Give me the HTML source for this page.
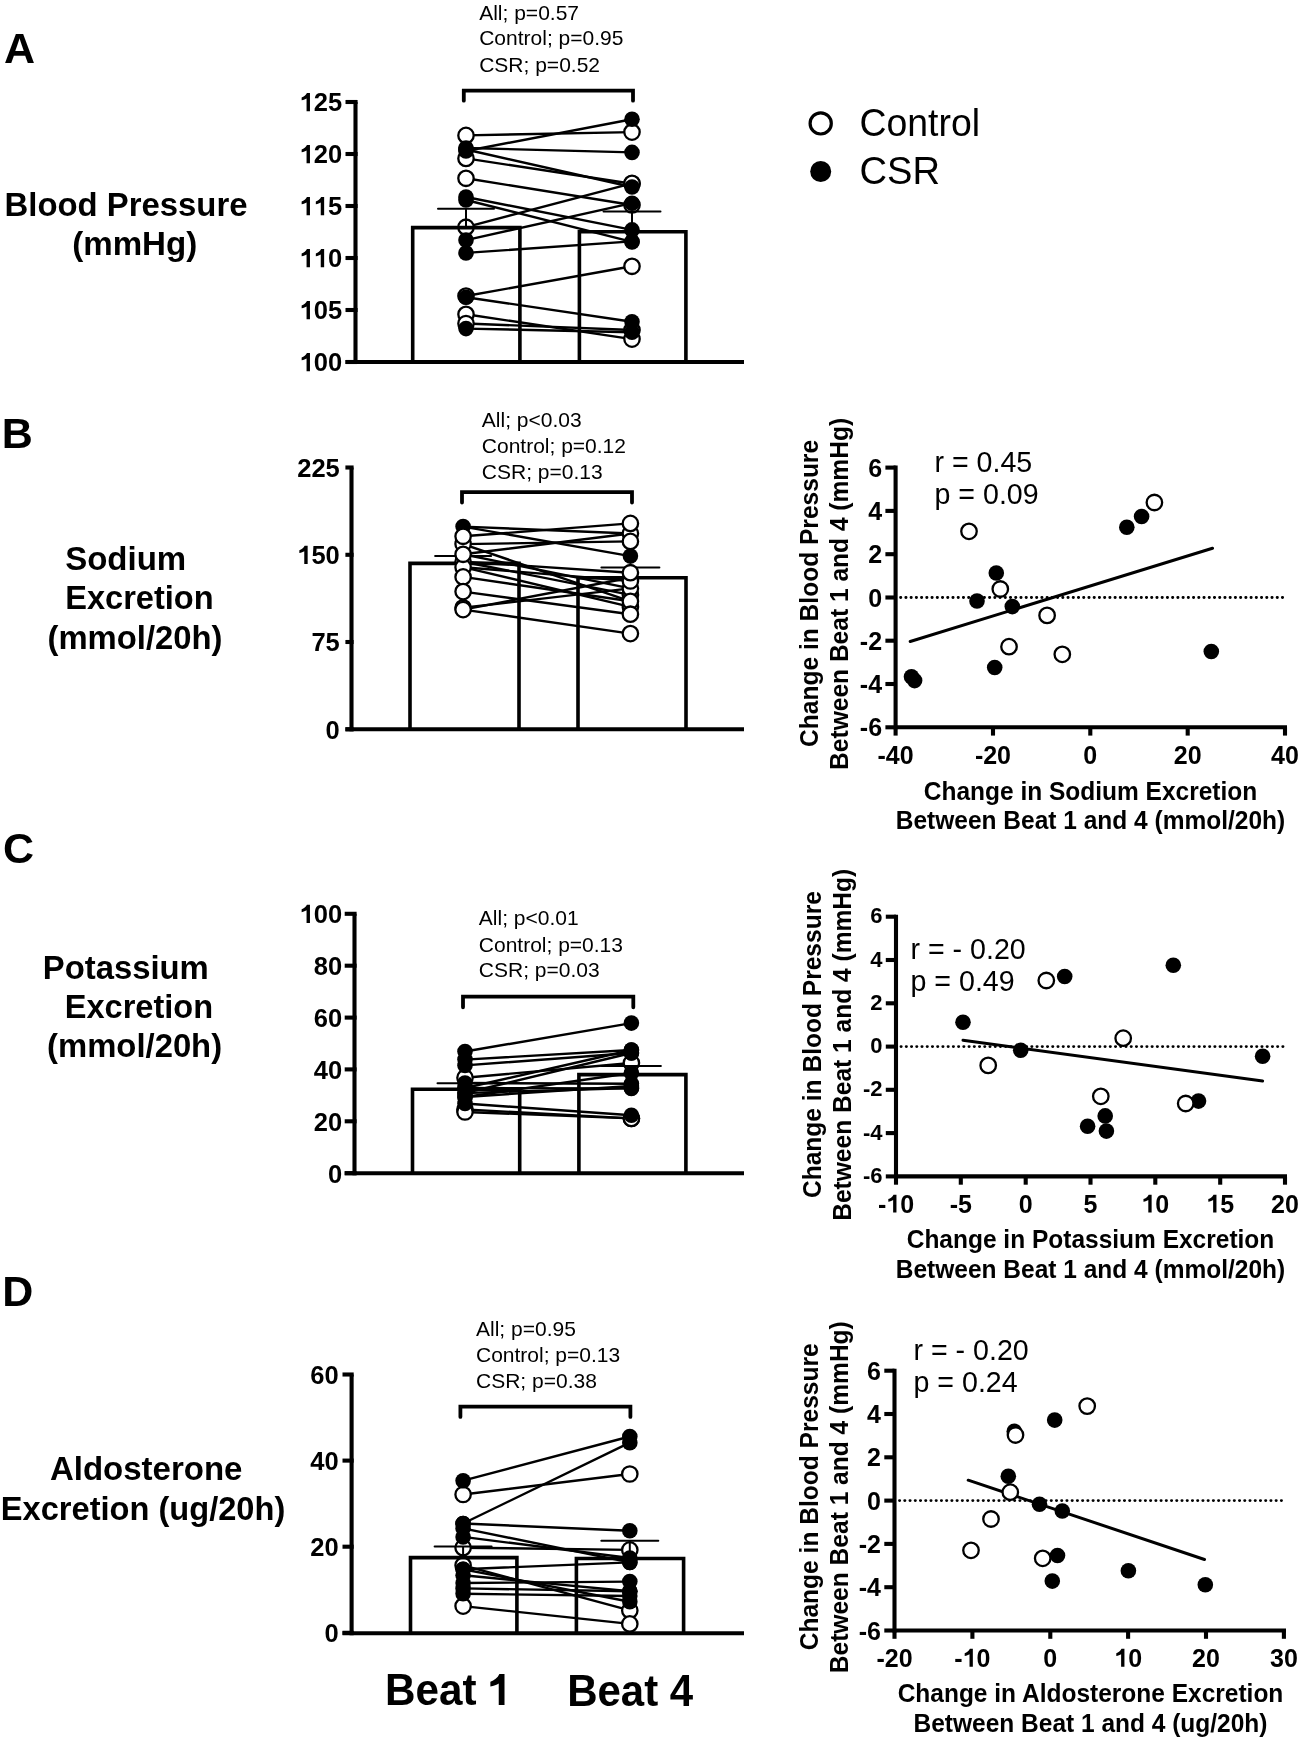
<!DOCTYPE html>
<html><head><meta charset="utf-8"><style>
html,body{margin:0;padding:0;background:#fff;}
svg{display:block;will-change:transform;}
text{font-family:"Liberation Sans",sans-serif;fill:#000;}
</style></head><body>
<svg width="1301" height="1742" viewBox="0 0 1301 1742" stroke="#000" fill="none">
<rect x="0" y="0" width="1301" height="1742" fill="#fff" stroke="none"/>
<g>
<line x1="355.5" y1="102.0" x2="355.5" y2="364.1" stroke-width="4.1" stroke-linecap="butt" />
<line x1="345.5" y1="102.0" x2="357.6" y2="102.0" stroke-width="4.1" stroke-linecap="butt" />
<path d="M0.408,0 L0.408,-0.717 L0.29,-0.717 C0.25,-0.63 0.17,-0.565 0.082,-0.54 L0.082,-0.43 C0.16,-0.44 0.23,-0.47 0.275,-0.5 L0.275,0 Z" transform="translate(299.55,111.30) scale(25.5)" fill="#000" stroke="none"/>
<text stroke="none" x="313.74" y="111.30" font-size="25.5" font-weight="bold">25</text>
<line x1="345.5" y1="154.0" x2="357.6" y2="154.0" stroke-width="4.1" stroke-linecap="butt" />
<path d="M0.408,0 L0.408,-0.717 L0.29,-0.717 C0.25,-0.63 0.17,-0.565 0.082,-0.54 L0.082,-0.43 C0.16,-0.44 0.23,-0.47 0.275,-0.5 L0.275,0 Z" transform="translate(299.55,163.30) scale(25.5)" fill="#000" stroke="none"/>
<text stroke="none" x="313.74" y="163.30" font-size="25.5" font-weight="bold">20</text>
<line x1="345.5" y1="206.0" x2="357.6" y2="206.0" stroke-width="4.1" stroke-linecap="butt" />
<path d="M0.408,0 L0.408,-0.717 L0.29,-0.717 C0.25,-0.63 0.17,-0.565 0.082,-0.54 L0.082,-0.43 C0.16,-0.44 0.23,-0.47 0.275,-0.5 L0.275,0 Z" transform="translate(299.55,215.30) scale(25.5)" fill="#000" stroke="none"/>
<path d="M0.408,0 L0.408,-0.717 L0.29,-0.717 C0.25,-0.63 0.17,-0.565 0.082,-0.54 L0.082,-0.43 C0.16,-0.44 0.23,-0.47 0.275,-0.5 L0.275,0 Z" transform="translate(313.74,215.30) scale(25.5)" fill="#000" stroke="none"/>
<text stroke="none" x="327.92" y="215.30" font-size="25.5" font-weight="bold">5</text>
<line x1="345.5" y1="258.0" x2="357.6" y2="258.0" stroke-width="4.1" stroke-linecap="butt" />
<path d="M0.408,0 L0.408,-0.717 L0.29,-0.717 C0.25,-0.63 0.17,-0.565 0.082,-0.54 L0.082,-0.43 C0.16,-0.44 0.23,-0.47 0.275,-0.5 L0.275,0 Z" transform="translate(299.55,267.30) scale(25.5)" fill="#000" stroke="none"/>
<path d="M0.408,0 L0.408,-0.717 L0.29,-0.717 C0.25,-0.63 0.17,-0.565 0.082,-0.54 L0.082,-0.43 C0.16,-0.44 0.23,-0.47 0.275,-0.5 L0.275,0 Z" transform="translate(313.74,267.30) scale(25.5)" fill="#000" stroke="none"/>
<text stroke="none" x="327.92" y="267.30" font-size="25.5" font-weight="bold">0</text>
<line x1="345.5" y1="310.0" x2="357.6" y2="310.0" stroke-width="4.1" stroke-linecap="butt" />
<path d="M0.408,0 L0.408,-0.717 L0.29,-0.717 C0.25,-0.63 0.17,-0.565 0.082,-0.54 L0.082,-0.43 C0.16,-0.44 0.23,-0.47 0.275,-0.5 L0.275,0 Z" transform="translate(299.55,319.30) scale(25.5)" fill="#000" stroke="none"/>
<text stroke="none" x="313.74" y="319.30" font-size="25.5" font-weight="bold">05</text>
<line x1="345.5" y1="362.0" x2="357.6" y2="362.0" stroke-width="4.1" stroke-linecap="butt" />
<path d="M0.408,0 L0.408,-0.717 L0.29,-0.717 C0.25,-0.63 0.17,-0.565 0.082,-0.54 L0.082,-0.43 C0.16,-0.44 0.23,-0.47 0.275,-0.5 L0.275,0 Z" transform="translate(299.55,371.30) scale(25.5)" fill="#000" stroke="none"/>
<text stroke="none" x="313.74" y="371.30" font-size="25.5" font-weight="bold">00</text>
<line x1="345.5" y1="362.0" x2="744.0" y2="362.0" stroke-width="4.1" stroke-linecap="butt" />
<line x1="466.0" y1="135.4" x2="632.0" y2="132.1" stroke-width="2.4" stroke-linecap="round" />
<line x1="466.0" y1="151.0" x2="632.0" y2="119.2" stroke-width="2.4" stroke-linecap="round" />
<line x1="466.0" y1="148.0" x2="632.0" y2="152.4" stroke-width="2.4" stroke-linecap="round" />
<line x1="466.0" y1="149.5" x2="632.0" y2="187.0" stroke-width="2.4" stroke-linecap="round" />
<line x1="466.0" y1="158.4" x2="632.0" y2="183.8" stroke-width="2.4" stroke-linecap="round" />
<line x1="466.0" y1="178.3" x2="632.0" y2="205.0" stroke-width="2.4" stroke-linecap="round" />
<line x1="466.0" y1="197.0" x2="632.0" y2="229.9" stroke-width="2.4" stroke-linecap="round" />
<line x1="466.0" y1="200.0" x2="632.0" y2="241.9" stroke-width="2.4" stroke-linecap="round" />
<line x1="466.0" y1="227.2" x2="632.0" y2="183.3" stroke-width="2.4" stroke-linecap="round" />
<line x1="466.0" y1="240.1" x2="632.0" y2="203.2" stroke-width="2.4" stroke-linecap="round" />
<line x1="466.0" y1="252.9" x2="632.0" y2="241.4" stroke-width="2.4" stroke-linecap="round" />
<line x1="466.0" y1="296.0" x2="632.0" y2="266.3" stroke-width="2.4" stroke-linecap="round" />
<line x1="466.0" y1="297.2" x2="632.0" y2="321.7" stroke-width="2.4" stroke-linecap="round" />
<line x1="466.0" y1="314.3" x2="632.0" y2="339.1" stroke-width="2.4" stroke-linecap="round" />
<line x1="466.0" y1="323.5" x2="632.0" y2="330.0" stroke-width="2.4" stroke-linecap="round" />
<line x1="466.0" y1="328.6" x2="632.0" y2="332.2" stroke-width="2.4" stroke-linecap="round" />
<circle cx="466.0" cy="135.4" r="7.70" fill="#fff" stroke="#000" stroke-width="2.3"/>
<circle cx="632.0" cy="132.1" r="7.70" fill="#fff" stroke="#000" stroke-width="2.3"/>
<circle cx="466.0" cy="158.4" r="7.70" fill="#fff" stroke="#000" stroke-width="2.3"/>
<circle cx="632.0" cy="183.8" r="7.70" fill="#fff" stroke="#000" stroke-width="2.3"/>
<circle cx="466.0" cy="178.3" r="7.70" fill="#fff" stroke="#000" stroke-width="2.3"/>
<circle cx="632.0" cy="205.0" r="7.70" fill="#fff" stroke="#000" stroke-width="2.3"/>
<circle cx="466.0" cy="227.2" r="7.70" fill="#fff" stroke="#000" stroke-width="2.3"/>
<circle cx="632.0" cy="183.3" r="7.70" fill="#fff" stroke="#000" stroke-width="2.3"/>
<circle cx="466.0" cy="296.0" r="7.70" fill="#fff" stroke="#000" stroke-width="2.3"/>
<circle cx="632.0" cy="266.3" r="7.70" fill="#fff" stroke="#000" stroke-width="2.3"/>
<circle cx="466.0" cy="314.3" r="7.70" fill="#fff" stroke="#000" stroke-width="2.3"/>
<circle cx="632.0" cy="339.1" r="7.70" fill="#fff" stroke="#000" stroke-width="2.3"/>
<circle cx="466.0" cy="323.5" r="7.70" fill="#fff" stroke="#000" stroke-width="2.3"/>
<circle cx="632.0" cy="330.0" r="7.70" fill="#fff" stroke="#000" stroke-width="2.3"/>
<circle cx="466.0" cy="151.0" r="7.80" fill="#000" stroke="none"/>
<circle cx="632.0" cy="119.2" r="7.80" fill="#000" stroke="none"/>
<circle cx="466.0" cy="148.0" r="7.80" fill="#000" stroke="none"/>
<circle cx="632.0" cy="152.4" r="7.80" fill="#000" stroke="none"/>
<circle cx="466.0" cy="149.5" r="7.80" fill="#000" stroke="none"/>
<circle cx="632.0" cy="187.0" r="7.80" fill="#000" stroke="none"/>
<circle cx="466.0" cy="197.0" r="7.80" fill="#000" stroke="none"/>
<circle cx="632.0" cy="229.9" r="7.80" fill="#000" stroke="none"/>
<circle cx="466.0" cy="200.0" r="7.80" fill="#000" stroke="none"/>
<circle cx="632.0" cy="241.9" r="7.80" fill="#000" stroke="none"/>
<circle cx="466.0" cy="240.1" r="7.80" fill="#000" stroke="none"/>
<circle cx="632.0" cy="203.2" r="7.80" fill="#000" stroke="none"/>
<circle cx="466.0" cy="252.9" r="7.80" fill="#000" stroke="none"/>
<circle cx="632.0" cy="241.4" r="7.80" fill="#000" stroke="none"/>
<circle cx="466.0" cy="297.2" r="7.80" fill="#000" stroke="none"/>
<circle cx="632.0" cy="321.7" r="7.80" fill="#000" stroke="none"/>
<circle cx="466.0" cy="328.6" r="7.80" fill="#000" stroke="none"/>
<circle cx="632.0" cy="332.2" r="7.80" fill="#000" stroke="none"/>
<path d="M412.7,362.0 V227.6 H519.9 V362.0" fill="none" stroke-width="3.6" stroke-linejoin="miter"/>
<path d="M579.4,362.0 V231.7 H685.9 V362.0" fill="none" stroke-width="3.6" stroke-linejoin="miter"/>
<line x1="466.0" y1="227.6" x2="466.0" y2="208.7" stroke-width="2.0" stroke-linecap="butt" />
<line x1="438.0" y1="208.7" x2="494.0" y2="208.7" stroke-width="2.0" stroke-linecap="round" />
<line x1="632.0" y1="231.7" x2="632.0" y2="211.4" stroke-width="2.0" stroke-linecap="butt" />
<line x1="603.5" y1="211.4" x2="660.5" y2="211.4" stroke-width="2.0" stroke-linecap="round" />
<path d="M463.8,100.7 V90.7 H633.0 V100.7" fill="none" stroke-width="3.8" stroke-linecap="round" stroke-linejoin="miter"/>
<text stroke="none" x="479.2" y="20.0" font-size="21" font-weight="normal" text-anchor="start" >All; p=0.57</text>
<text stroke="none" x="479.2" y="45.4" font-size="21" font-weight="normal" text-anchor="start" >Control; p=0.95</text>
<text stroke="none" x="479.2" y="71.5" font-size="21" font-weight="normal" text-anchor="start" >CSR; p=0.52</text>
<line x1="351.5" y1="467.5" x2="351.5" y2="731.3" stroke-width="4.1" stroke-linecap="butt" />
<line x1="345.4" y1="467.5" x2="353.6" y2="467.5" stroke-width="4.1" stroke-linecap="butt" />
<text stroke="none" x="297.25" y="476.80" font-size="25.5" font-weight="bold">225</text>
<line x1="345.4" y1="554.8" x2="353.6" y2="554.8" stroke-width="4.1" stroke-linecap="butt" />
<path d="M0.408,0 L0.408,-0.717 L0.29,-0.717 C0.25,-0.63 0.17,-0.565 0.082,-0.54 L0.082,-0.43 C0.16,-0.44 0.23,-0.47 0.275,-0.5 L0.275,0 Z" transform="translate(297.25,564.07) scale(25.5)" fill="#000" stroke="none"/>
<text stroke="none" x="311.44" y="564.07" font-size="25.5" font-weight="bold">50</text>
<line x1="345.4" y1="642.0" x2="353.6" y2="642.0" stroke-width="4.1" stroke-linecap="butt" />
<text stroke="none" x="311.44" y="651.33" font-size="25.5" font-weight="bold">75</text>
<line x1="345.4" y1="729.3" x2="353.6" y2="729.3" stroke-width="4.1" stroke-linecap="butt" />
<text stroke="none" x="325.62" y="738.60" font-size="25.5" font-weight="bold">0</text>
<line x1="345.4" y1="729.3" x2="744.0" y2="729.3" stroke-width="4.1" stroke-linecap="butt" />
<path d="M410.0,729.3 V563.4 H519.0 V729.3" fill="none" stroke-width="3.6" stroke-linejoin="miter"/>
<path d="M578.0,729.3 V577.8 H686.0 V729.3" fill="none" stroke-width="3.6" stroke-linejoin="miter"/>
<line x1="463.1" y1="563.4" x2="463.1" y2="556.1" stroke-width="2.0" stroke-linecap="butt" />
<line x1="435.1" y1="556.1" x2="491.1" y2="556.1" stroke-width="2.0" stroke-linecap="round" />
<line x1="630.4" y1="577.8" x2="630.4" y2="567.6" stroke-width="2.0" stroke-linecap="butt" />
<line x1="601.4" y1="567.6" x2="659.4" y2="567.6" stroke-width="2.0" stroke-linecap="round" />
<line x1="463.1" y1="526.6" x2="630.4" y2="533.5" stroke-width="2.4" stroke-linecap="round" />
<line x1="463.1" y1="536.3" x2="630.4" y2="523.4" stroke-width="2.4" stroke-linecap="round" />
<line x1="463.1" y1="526.6" x2="630.4" y2="556.1" stroke-width="2.4" stroke-linecap="round" />
<line x1="463.1" y1="544.1" x2="630.4" y2="541.4" stroke-width="2.4" stroke-linecap="round" />
<line x1="463.1" y1="554.3" x2="630.4" y2="533.5" stroke-width="2.4" stroke-linecap="round" />
<line x1="463.1" y1="544.1" x2="630.4" y2="601.3" stroke-width="2.4" stroke-linecap="round" />
<line x1="463.1" y1="561.7" x2="630.4" y2="572.7" stroke-width="2.4" stroke-linecap="round" />
<line x1="463.1" y1="567.2" x2="630.4" y2="581.0" stroke-width="2.4" stroke-linecap="round" />
<line x1="463.1" y1="554.3" x2="630.4" y2="588.4" stroke-width="2.4" stroke-linecap="round" />
<line x1="463.1" y1="561.7" x2="630.4" y2="594.9" stroke-width="2.4" stroke-linecap="round" />
<line x1="463.1" y1="567.2" x2="630.4" y2="606.9" stroke-width="2.4" stroke-linecap="round" />
<line x1="463.1" y1="576.9" x2="630.4" y2="601.3" stroke-width="2.4" stroke-linecap="round" />
<line x1="463.1" y1="591.6" x2="630.4" y2="614.2" stroke-width="2.4" stroke-linecap="round" />
<line x1="463.1" y1="609.6" x2="630.4" y2="577.8" stroke-width="2.4" stroke-linecap="round" />
<line x1="463.1" y1="609.6" x2="630.4" y2="633.6" stroke-width="2.4" stroke-linecap="round" />
<line x1="463.1" y1="607.8" x2="630.4" y2="588.4" stroke-width="2.4" stroke-linecap="round" />
<circle cx="463.1" cy="526.6" r="7.80" fill="#000" stroke="none"/>
<circle cx="463.1" cy="544.1" r="7.70" fill="#fff" stroke="#000" stroke-width="2.3"/>
<circle cx="463.1" cy="561.7" r="7.70" fill="#fff" stroke="#000" stroke-width="2.3"/>
<circle cx="463.1" cy="567.2" r="7.70" fill="#fff" stroke="#000" stroke-width="2.3"/>
<circle cx="463.1" cy="536.3" r="7.70" fill="#fff" stroke="#000" stroke-width="2.3"/>
<circle cx="463.1" cy="554.3" r="7.70" fill="#fff" stroke="#000" stroke-width="2.3"/>
<circle cx="463.1" cy="576.9" r="7.70" fill="#fff" stroke="#000" stroke-width="2.3"/>
<circle cx="463.1" cy="591.6" r="7.70" fill="#fff" stroke="#000" stroke-width="2.3"/>
<circle cx="463.1" cy="607.8" r="7.70" fill="#fff" stroke="#000" stroke-width="2.3"/>
<circle cx="463.1" cy="609.6" r="7.70" fill="#fff" stroke="#000" stroke-width="2.3"/>
<circle cx="630.4" cy="606.9" r="7.70" fill="#fff" stroke="#000" stroke-width="2.3"/>
<circle cx="630.4" cy="594.9" r="7.70" fill="#fff" stroke="#000" stroke-width="2.3"/>
<circle cx="630.4" cy="588.4" r="7.70" fill="#fff" stroke="#000" stroke-width="2.3"/>
<circle cx="630.4" cy="581.0" r="7.70" fill="#fff" stroke="#000" stroke-width="2.3"/>
<circle cx="630.4" cy="533.5" r="7.70" fill="#fff" stroke="#000" stroke-width="2.3"/>
<circle cx="630.4" cy="523.4" r="7.70" fill="#fff" stroke="#000" stroke-width="2.3"/>
<circle cx="630.4" cy="541.4" r="7.70" fill="#fff" stroke="#000" stroke-width="2.3"/>
<circle cx="630.4" cy="556.1" r="7.80" fill="#000" stroke="none"/>
<circle cx="630.4" cy="572.7" r="7.70" fill="#fff" stroke="#000" stroke-width="2.3"/>
<circle cx="630.4" cy="601.3" r="7.70" fill="#fff" stroke="#000" stroke-width="2.3"/>
<circle cx="630.4" cy="614.2" r="7.70" fill="#fff" stroke="#000" stroke-width="2.3"/>
<circle cx="630.4" cy="633.6" r="7.70" fill="#fff" stroke="#000" stroke-width="2.3"/>
<path d="M462.0,502.6 V492.2 H632.0 V502.6" fill="none" stroke-width="3.8" stroke-linecap="round" stroke-linejoin="miter"/>
<text stroke="none" x="481.8" y="427.2" font-size="21" font-weight="normal" text-anchor="start" >All; p&lt;0.03</text>
<text stroke="none" x="481.8" y="453.2" font-size="21" font-weight="normal" text-anchor="start" >Control; p=0.12</text>
<text stroke="none" x="481.8" y="478.8" font-size="21" font-weight="normal" text-anchor="start" >CSR; p=0.13</text>
<line x1="354.5" y1="913.8" x2="354.5" y2="1175.2" stroke-width="4.1" stroke-linecap="butt" />
<line x1="344.7" y1="913.8" x2="356.6" y2="913.8" stroke-width="4.1" stroke-linecap="butt" />
<path d="M0.408,0 L0.408,-0.717 L0.29,-0.717 C0.25,-0.63 0.17,-0.565 0.082,-0.54 L0.082,-0.43 C0.16,-0.44 0.23,-0.47 0.275,-0.5 L0.275,0 Z" transform="translate(299.55,923.10) scale(25.5)" fill="#000" stroke="none"/>
<text stroke="none" x="313.74" y="923.10" font-size="25.5" font-weight="bold">00</text>
<line x1="344.7" y1="965.7" x2="356.6" y2="965.7" stroke-width="4.1" stroke-linecap="butt" />
<text stroke="none" x="313.74" y="974.98" font-size="25.5" font-weight="bold">80</text>
<line x1="344.7" y1="1017.6" x2="356.6" y2="1017.6" stroke-width="4.1" stroke-linecap="butt" />
<text stroke="none" x="313.74" y="1026.86" font-size="25.5" font-weight="bold">60</text>
<line x1="344.7" y1="1069.4" x2="356.6" y2="1069.4" stroke-width="4.1" stroke-linecap="butt" />
<text stroke="none" x="313.74" y="1078.74" font-size="25.5" font-weight="bold">40</text>
<line x1="344.7" y1="1121.3" x2="356.6" y2="1121.3" stroke-width="4.1" stroke-linecap="butt" />
<text stroke="none" x="313.74" y="1130.62" font-size="25.5" font-weight="bold">20</text>
<line x1="344.7" y1="1173.2" x2="356.6" y2="1173.2" stroke-width="4.1" stroke-linecap="butt" />
<text stroke="none" x="327.92" y="1182.50" font-size="25.5" font-weight="bold">0</text>
<line x1="344.7" y1="1173.2" x2="744.0" y2="1173.2" stroke-width="4.1" stroke-linecap="butt" />
<line x1="465.0" y1="1051.5" x2="631.4" y2="1023.1" stroke-width="2.4" stroke-linecap="round" />
<line x1="465.0" y1="1059.6" x2="631.4" y2="1050.0" stroke-width="2.4" stroke-linecap="round" />
<line x1="465.0" y1="1065.4" x2="631.4" y2="1053.0" stroke-width="2.4" stroke-linecap="round" />
<line x1="465.0" y1="1077.7" x2="631.4" y2="1063.0" stroke-width="2.4" stroke-linecap="round" />
<line x1="465.0" y1="1088.0" x2="631.4" y2="1050.0" stroke-width="2.4" stroke-linecap="round" />
<line x1="465.0" y1="1093.0" x2="631.4" y2="1053.0" stroke-width="2.4" stroke-linecap="round" />
<line x1="465.0" y1="1083.0" x2="631.4" y2="1083.8" stroke-width="2.4" stroke-linecap="round" />
<line x1="465.0" y1="1088.0" x2="631.4" y2="1088.4" stroke-width="2.4" stroke-linecap="round" />
<line x1="465.0" y1="1097.0" x2="631.4" y2="1073.0" stroke-width="2.4" stroke-linecap="round" />
<line x1="465.0" y1="1097.0" x2="631.4" y2="1086.0" stroke-width="2.4" stroke-linecap="round" />
<line x1="465.0" y1="1093.0" x2="631.4" y2="1088.0" stroke-width="2.4" stroke-linecap="round" />
<line x1="465.0" y1="1103.5" x2="631.4" y2="1115.3" stroke-width="2.4" stroke-linecap="round" />
<line x1="465.0" y1="1109.5" x2="631.4" y2="1118.4" stroke-width="2.4" stroke-linecap="round" />
<line x1="465.0" y1="1112.0" x2="631.4" y2="1118.4" stroke-width="2.4" stroke-linecap="round" />
<circle cx="465.0" cy="1077.7" r="7.70" fill="#fff" stroke="#000" stroke-width="2.3"/>
<circle cx="631.4" cy="1063.0" r="7.70" fill="#fff" stroke="#000" stroke-width="2.3"/>
<circle cx="465.0" cy="1109.5" r="7.70" fill="#fff" stroke="#000" stroke-width="2.3"/>
<circle cx="631.4" cy="1118.4" r="7.70" fill="#fff" stroke="#000" stroke-width="2.3"/>
<circle cx="465.0" cy="1112.0" r="7.70" fill="#fff" stroke="#000" stroke-width="2.3"/>
<circle cx="631.4" cy="1118.4" r="7.70" fill="#fff" stroke="#000" stroke-width="2.3"/>
<circle cx="465.0" cy="1051.5" r="7.80" fill="#000" stroke="none"/>
<circle cx="631.4" cy="1023.1" r="7.80" fill="#000" stroke="none"/>
<circle cx="465.0" cy="1059.6" r="7.80" fill="#000" stroke="none"/>
<circle cx="631.4" cy="1050.0" r="7.80" fill="#000" stroke="none"/>
<circle cx="465.0" cy="1065.4" r="7.80" fill="#000" stroke="none"/>
<circle cx="631.4" cy="1053.0" r="7.80" fill="#000" stroke="none"/>
<circle cx="465.0" cy="1088.0" r="7.80" fill="#000" stroke="none"/>
<circle cx="631.4" cy="1050.0" r="7.80" fill="#000" stroke="none"/>
<circle cx="465.0" cy="1093.0" r="7.80" fill="#000" stroke="none"/>
<circle cx="631.4" cy="1053.0" r="7.80" fill="#000" stroke="none"/>
<circle cx="465.0" cy="1083.0" r="7.80" fill="#000" stroke="none"/>
<circle cx="631.4" cy="1083.8" r="7.80" fill="#000" stroke="none"/>
<circle cx="465.0" cy="1088.0" r="7.80" fill="#000" stroke="none"/>
<circle cx="631.4" cy="1088.4" r="7.80" fill="#000" stroke="none"/>
<circle cx="465.0" cy="1097.0" r="7.80" fill="#000" stroke="none"/>
<circle cx="631.4" cy="1073.0" r="7.80" fill="#000" stroke="none"/>
<circle cx="465.0" cy="1097.0" r="7.80" fill="#000" stroke="none"/>
<circle cx="631.4" cy="1086.0" r="7.80" fill="#000" stroke="none"/>
<circle cx="465.0" cy="1093.0" r="7.80" fill="#000" stroke="none"/>
<circle cx="631.4" cy="1088.0" r="7.80" fill="#000" stroke="none"/>
<circle cx="465.0" cy="1103.5" r="7.80" fill="#000" stroke="none"/>
<circle cx="631.4" cy="1115.3" r="7.80" fill="#000" stroke="none"/>
<path d="M412.5,1173.2 V1089.3 H519.7 V1173.2" fill="none" stroke-width="3.6" stroke-linejoin="miter"/>
<path d="M578.9,1173.2 V1074.6 H685.9 V1173.2" fill="none" stroke-width="3.6" stroke-linejoin="miter"/>
<line x1="465.0" y1="1089.3" x2="465.0" y2="1083.2" stroke-width="2.0" stroke-linecap="butt" />
<line x1="437.5" y1="1083.2" x2="492.5" y2="1083.2" stroke-width="2.0" stroke-linecap="round" />
<line x1="631.4" y1="1074.6" x2="631.4" y2="1065.9" stroke-width="2.0" stroke-linecap="butt" />
<line x1="601.9" y1="1065.9" x2="660.9" y2="1065.9" stroke-width="2.0" stroke-linecap="round" />
<path d="M463.0,1007.3 V996.7 H633.3 V1007.3" fill="none" stroke-width="3.8" stroke-linecap="round" stroke-linejoin="miter"/>
<text stroke="none" x="478.8" y="925.4" font-size="21" font-weight="normal" text-anchor="start" >All; p&lt;0.01</text>
<text stroke="none" x="478.8" y="951.8" font-size="21" font-weight="normal" text-anchor="start" >Control; p=0.13</text>
<text stroke="none" x="478.8" y="976.8" font-size="21" font-weight="normal" text-anchor="start" >CSR; p=0.03</text>
<line x1="351.6" y1="1374.5" x2="351.6" y2="1635.2" stroke-width="4.1" stroke-linecap="butt" />
<line x1="342.5" y1="1374.5" x2="353.7" y2="1374.5" stroke-width="4.1" stroke-linecap="butt" />
<text stroke="none" x="310.24" y="1383.80" font-size="25.5" font-weight="bold">60</text>
<line x1="342.5" y1="1460.6" x2="353.7" y2="1460.6" stroke-width="4.1" stroke-linecap="butt" />
<text stroke="none" x="310.24" y="1469.90" font-size="25.5" font-weight="bold">40</text>
<line x1="342.5" y1="1546.7" x2="353.7" y2="1546.7" stroke-width="4.1" stroke-linecap="butt" />
<text stroke="none" x="310.24" y="1556.00" font-size="25.5" font-weight="bold">20</text>
<line x1="342.5" y1="1632.8" x2="353.7" y2="1632.8" stroke-width="4.1" stroke-linecap="butt" />
<text stroke="none" x="324.42" y="1642.10" font-size="25.5" font-weight="bold">0</text>
<line x1="342.5" y1="1633.2" x2="744.0" y2="1633.2" stroke-width="4.1" stroke-linecap="butt" />
<line x1="463.1" y1="1480.7" x2="629.8" y2="1436.5" stroke-width="2.4" stroke-linecap="round" />
<line x1="463.1" y1="1494.5" x2="629.8" y2="1474.0" stroke-width="2.4" stroke-linecap="round" />
<line x1="463.1" y1="1523.5" x2="629.8" y2="1442.7" stroke-width="2.4" stroke-linecap="round" />
<line x1="463.1" y1="1523.5" x2="629.8" y2="1530.7" stroke-width="2.4" stroke-linecap="round" />
<line x1="463.1" y1="1536.9" x2="629.8" y2="1558.0" stroke-width="2.4" stroke-linecap="round" />
<line x1="463.1" y1="1547.7" x2="629.8" y2="1549.9" stroke-width="2.4" stroke-linecap="round" />
<line x1="463.1" y1="1569.2" x2="629.8" y2="1562.4" stroke-width="2.4" stroke-linecap="round" />
<line x1="463.1" y1="1569.2" x2="629.8" y2="1601.8" stroke-width="2.4" stroke-linecap="round" />
<line x1="463.1" y1="1575.3" x2="629.8" y2="1591.2" stroke-width="2.4" stroke-linecap="round" />
<line x1="463.1" y1="1583.0" x2="629.8" y2="1581.6" stroke-width="2.4" stroke-linecap="round" />
<line x1="463.1" y1="1588.4" x2="629.8" y2="1591.2" stroke-width="2.4" stroke-linecap="round" />
<line x1="463.1" y1="1593.8" x2="629.8" y2="1596.0" stroke-width="2.4" stroke-linecap="round" />
<line x1="463.1" y1="1565.3" x2="629.8" y2="1610.4" stroke-width="2.4" stroke-linecap="round" />
<line x1="463.1" y1="1606.1" x2="629.8" y2="1623.9" stroke-width="2.4" stroke-linecap="round" />
<line x1="463.1" y1="1528.4" x2="629.8" y2="1562.4" stroke-width="2.4" stroke-linecap="round" />
<circle cx="463.1" cy="1494.5" r="7.70" fill="#fff" stroke="#000" stroke-width="2.3"/>
<circle cx="629.8" cy="1474.0" r="7.70" fill="#fff" stroke="#000" stroke-width="2.3"/>
<circle cx="463.1" cy="1547.7" r="7.70" fill="#fff" stroke="#000" stroke-width="2.3"/>
<circle cx="629.8" cy="1549.9" r="7.70" fill="#fff" stroke="#000" stroke-width="2.3"/>
<circle cx="463.1" cy="1565.3" r="7.70" fill="#fff" stroke="#000" stroke-width="2.3"/>
<circle cx="629.8" cy="1610.4" r="7.70" fill="#fff" stroke="#000" stroke-width="2.3"/>
<circle cx="463.1" cy="1606.1" r="7.70" fill="#fff" stroke="#000" stroke-width="2.3"/>
<circle cx="629.8" cy="1623.9" r="7.70" fill="#fff" stroke="#000" stroke-width="2.3"/>
<circle cx="463.1" cy="1480.7" r="7.80" fill="#000" stroke="none"/>
<circle cx="629.8" cy="1436.5" r="7.80" fill="#000" stroke="none"/>
<circle cx="463.1" cy="1523.5" r="7.80" fill="#000" stroke="none"/>
<circle cx="629.8" cy="1442.7" r="7.80" fill="#000" stroke="none"/>
<circle cx="463.1" cy="1523.5" r="7.80" fill="#000" stroke="none"/>
<circle cx="629.8" cy="1530.7" r="7.80" fill="#000" stroke="none"/>
<circle cx="463.1" cy="1536.9" r="7.80" fill="#000" stroke="none"/>
<circle cx="629.8" cy="1558.0" r="7.80" fill="#000" stroke="none"/>
<circle cx="463.1" cy="1569.2" r="7.80" fill="#000" stroke="none"/>
<circle cx="629.8" cy="1562.4" r="7.80" fill="#000" stroke="none"/>
<circle cx="463.1" cy="1569.2" r="7.80" fill="#000" stroke="none"/>
<circle cx="629.8" cy="1601.8" r="7.80" fill="#000" stroke="none"/>
<circle cx="463.1" cy="1575.3" r="7.80" fill="#000" stroke="none"/>
<circle cx="629.8" cy="1591.2" r="7.80" fill="#000" stroke="none"/>
<circle cx="463.1" cy="1583.0" r="7.80" fill="#000" stroke="none"/>
<circle cx="629.8" cy="1581.6" r="7.80" fill="#000" stroke="none"/>
<circle cx="463.1" cy="1588.4" r="7.80" fill="#000" stroke="none"/>
<circle cx="629.8" cy="1591.2" r="7.80" fill="#000" stroke="none"/>
<circle cx="463.1" cy="1593.8" r="7.80" fill="#000" stroke="none"/>
<circle cx="629.8" cy="1596.0" r="7.80" fill="#000" stroke="none"/>
<circle cx="463.1" cy="1528.4" r="7.80" fill="#000" stroke="none"/>
<circle cx="629.8" cy="1562.4" r="7.80" fill="#000" stroke="none"/>
<path d="M410.5,1633.2 V1557.6 H516.9 V1633.2" fill="none" stroke-width="3.6" stroke-linejoin="miter"/>
<path d="M576.4,1633.2 V1558.5 H683.6 V1633.2" fill="none" stroke-width="3.6" stroke-linejoin="miter"/>
<line x1="463.1" y1="1557.6" x2="463.1" y2="1546.4" stroke-width="2.0" stroke-linecap="butt" />
<line x1="434.6" y1="1546.4" x2="491.6" y2="1546.4" stroke-width="2.0" stroke-linecap="round" />
<line x1="629.8" y1="1558.5" x2="629.8" y2="1540.7" stroke-width="2.0" stroke-linecap="butt" />
<line x1="601.3" y1="1540.7" x2="658.3" y2="1540.7" stroke-width="2.0" stroke-linecap="round" />
<path d="M460.4,1416.9 V1406.7 H630.4 V1416.9" fill="none" stroke-width="3.8" stroke-linecap="round" stroke-linejoin="miter"/>
<text stroke="none" x="476.0" y="1336.0" font-size="21" font-weight="normal" text-anchor="start" >All; p=0.95</text>
<text stroke="none" x="476.0" y="1362.2" font-size="21" font-weight="normal" text-anchor="start" >Control; p=0.13</text>
<text stroke="none" x="476.0" y="1387.8" font-size="21" font-weight="normal" text-anchor="start" >CSR; p=0.38</text>
<line x1="895.6" y1="465.6" x2="895.6" y2="729.3" stroke-width="4.1" stroke-linecap="butt" />
<line x1="885.4" y1="467.6" x2="895.6" y2="467.6" stroke-width="4.1" stroke-linecap="butt" />
<text stroke="none" x="882.1" y="476.6" font-size="25" font-weight="bold" text-anchor="end" >6</text>
<line x1="885.4" y1="510.9" x2="895.6" y2="510.9" stroke-width="4.1" stroke-linecap="butt" />
<text stroke="none" x="882.1" y="519.9" font-size="25" font-weight="bold" text-anchor="end" >4</text>
<line x1="885.4" y1="554.2" x2="895.6" y2="554.2" stroke-width="4.1" stroke-linecap="butt" />
<text stroke="none" x="882.1" y="563.2" font-size="25" font-weight="bold" text-anchor="end" >2</text>
<line x1="885.4" y1="597.5" x2="895.6" y2="597.5" stroke-width="4.1" stroke-linecap="butt" />
<text stroke="none" x="882.1" y="606.5" font-size="25" font-weight="bold" text-anchor="end" >0</text>
<line x1="885.4" y1="640.7" x2="895.6" y2="640.7" stroke-width="4.1" stroke-linecap="butt" />
<text stroke="none" x="882.1" y="649.7" font-size="25" font-weight="bold" text-anchor="end" >-2</text>
<line x1="885.4" y1="684.0" x2="895.6" y2="684.0" stroke-width="4.1" stroke-linecap="butt" />
<text stroke="none" x="882.1" y="693.0" font-size="25" font-weight="bold" text-anchor="end" >-4</text>
<line x1="885.4" y1="727.3" x2="895.6" y2="727.3" stroke-width="4.1" stroke-linecap="butt" />
<text stroke="none" x="882.1" y="736.3" font-size="25" font-weight="bold" text-anchor="end" >-6</text>
<line x1="895.6" y1="727.3" x2="1287.0" y2="727.3" stroke-width="4.1" stroke-linecap="butt" />
<line x1="895.6" y1="727.3" x2="895.6" y2="735.6" stroke-width="4.1" stroke-linecap="butt" />
<text stroke="none" x="877.53" y="763.50" font-size="25" font-weight="bold">-40</text>
<line x1="993.0" y1="727.3" x2="993.0" y2="735.6" stroke-width="4.1" stroke-linecap="butt" />
<text stroke="none" x="974.88" y="763.50" font-size="25" font-weight="bold">-20</text>
<line x1="1090.3" y1="727.3" x2="1090.3" y2="735.6" stroke-width="4.1" stroke-linecap="butt" />
<text stroke="none" x="1083.35" y="763.50" font-size="25" font-weight="bold">0</text>
<line x1="1187.7" y1="727.3" x2="1187.7" y2="735.6" stroke-width="4.1" stroke-linecap="butt" />
<text stroke="none" x="1173.75" y="763.50" font-size="25" font-weight="bold">20</text>
<line x1="1285.0" y1="727.3" x2="1285.0" y2="735.6" stroke-width="4.1" stroke-linecap="butt" />
<text stroke="none" x="1271.10" y="763.50" font-size="25" font-weight="bold">40</text>
<line x1="900.6" y1="597.5" x2="1283.0" y2="597.5" stroke-width="2.9" stroke-linecap="round" stroke-dasharray="0.2 5.03"/>
<line x1="910.2" y1="641.5" x2="1212.5" y2="548.2" stroke-width="3.0" stroke-linecap="round" />
<circle cx="911.5" cy="676.8" r="7.80" fill="#000" stroke="none"/>
<circle cx="914.6" cy="680.6" r="7.80" fill="#000" stroke="none"/>
<circle cx="996.3" cy="573.0" r="7.80" fill="#000" stroke="none"/>
<circle cx="977.0" cy="601.0" r="7.80" fill="#000" stroke="none"/>
<circle cx="1012.3" cy="606.6" r="7.80" fill="#000" stroke="none"/>
<circle cx="994.7" cy="667.5" r="7.80" fill="#000" stroke="none"/>
<circle cx="1126.8" cy="527.3" r="7.80" fill="#000" stroke="none"/>
<circle cx="1141.6" cy="516.5" r="7.80" fill="#000" stroke="none"/>
<circle cx="1211.3" cy="651.5" r="7.80" fill="#000" stroke="none"/>
<circle cx="969.0" cy="531.3" r="7.75" fill="#fff" stroke="#000" stroke-width="2.3"/>
<circle cx="1000.3" cy="589.0" r="7.75" fill="#fff" stroke="#000" stroke-width="2.3"/>
<circle cx="1047.1" cy="615.4" r="7.75" fill="#fff" stroke="#000" stroke-width="2.3"/>
<circle cx="1009.0" cy="646.7" r="7.75" fill="#fff" stroke="#000" stroke-width="2.3"/>
<circle cx="1062.3" cy="654.3" r="7.75" fill="#fff" stroke="#000" stroke-width="2.3"/>
<circle cx="1154.4" cy="502.5" r="7.75" fill="#fff" stroke="#000" stroke-width="2.3"/>
<text stroke="none" x="934.5" y="472.3" font-size="28.6" font-weight="normal" text-anchor="start" >r = 0.45</text>
<text stroke="none" x="934.5" y="504.1" font-size="28.6" font-weight="normal" text-anchor="start" >p = 0.09</text>
<text stroke="none" x="1090.5" y="800.0" font-size="26" font-weight="bold" text-anchor="middle" textLength="333.5" lengthAdjust="spacingAndGlyphs" >Change in Sodium Excretion</text>
<text stroke="none" x="1090.5" y="829.4" font-size="26" font-weight="bold" text-anchor="middle" textLength="389.4" lengthAdjust="spacingAndGlyphs" >Between Beat 1 and 4 (mmol/20h)</text>
<text stroke="none" transform="translate(818.3,746.9) rotate(-90)" font-size="26" font-weight="bold" textLength="307" lengthAdjust="spacingAndGlyphs">Change in Blood Pressure</text>
<text stroke="none" transform="translate(847.5,769.9) rotate(-90)" font-size="26" font-weight="bold" textLength="352" lengthAdjust="spacingAndGlyphs">Between Beat 1 and 4 (mmHg)</text>
<line x1="896.0" y1="914.7" x2="896.0" y2="1178.5" stroke-width="4.1" stroke-linecap="butt" />
<line x1="885.8" y1="916.7" x2="896.0" y2="916.7" stroke-width="4.1" stroke-linecap="butt" />
<text stroke="none" x="882.6" y="923.2" font-size="22" font-weight="bold" text-anchor="end" >6</text>
<line x1="885.8" y1="960.0" x2="896.0" y2="960.0" stroke-width="4.1" stroke-linecap="butt" />
<text stroke="none" x="882.6" y="966.5" font-size="22" font-weight="bold" text-anchor="end" >4</text>
<line x1="885.8" y1="1003.3" x2="896.0" y2="1003.3" stroke-width="4.1" stroke-linecap="butt" />
<text stroke="none" x="882.6" y="1009.8" font-size="22" font-weight="bold" text-anchor="end" >2</text>
<line x1="885.8" y1="1046.6" x2="896.0" y2="1046.6" stroke-width="4.1" stroke-linecap="butt" />
<text stroke="none" x="882.6" y="1053.1" font-size="22" font-weight="bold" text-anchor="end" >0</text>
<line x1="885.8" y1="1089.8" x2="896.0" y2="1089.8" stroke-width="4.1" stroke-linecap="butt" />
<text stroke="none" x="882.6" y="1096.3" font-size="22" font-weight="bold" text-anchor="end" >-2</text>
<line x1="885.8" y1="1133.1" x2="896.0" y2="1133.1" stroke-width="4.1" stroke-linecap="butt" />
<text stroke="none" x="882.6" y="1139.6" font-size="22" font-weight="bold" text-anchor="end" >-4</text>
<line x1="885.8" y1="1176.4" x2="896.0" y2="1176.4" stroke-width="4.1" stroke-linecap="butt" />
<text stroke="none" x="882.6" y="1182.9" font-size="22" font-weight="bold" text-anchor="end" >-6</text>
<line x1="896.0" y1="1176.4" x2="1287.0" y2="1176.4" stroke-width="4.1" stroke-linecap="butt" />
<line x1="896.0" y1="1176.4" x2="896.0" y2="1184.7" stroke-width="4.1" stroke-linecap="butt" />
<text stroke="none" x="877.93" y="1212.60" font-size="25" font-weight="bold">-</text>
<path d="M0.408,0 L0.408,-0.717 L0.29,-0.717 C0.25,-0.63 0.17,-0.565 0.082,-0.54 L0.082,-0.43 C0.16,-0.44 0.23,-0.47 0.275,-0.5 L0.275,0 Z" transform="translate(886.26,1212.60) scale(25)" fill="#000" stroke="none"/>
<text stroke="none" x="900.16" y="1212.60" font-size="25" font-weight="bold">0</text>
<line x1="960.8" y1="1176.4" x2="960.8" y2="1184.7" stroke-width="4.1" stroke-linecap="butt" />
<text stroke="none" x="949.72" y="1212.60" font-size="25" font-weight="bold">-5</text>
<line x1="1025.7" y1="1176.4" x2="1025.7" y2="1184.7" stroke-width="4.1" stroke-linecap="butt" />
<text stroke="none" x="1018.71" y="1212.60" font-size="25" font-weight="bold">0</text>
<line x1="1090.5" y1="1176.4" x2="1090.5" y2="1184.7" stroke-width="4.1" stroke-linecap="butt" />
<text stroke="none" x="1083.55" y="1212.60" font-size="25" font-weight="bold">5</text>
<line x1="1155.3" y1="1176.4" x2="1155.3" y2="1184.7" stroke-width="4.1" stroke-linecap="butt" />
<path d="M0.408,0 L0.408,-0.717 L0.29,-0.717 C0.25,-0.63 0.17,-0.565 0.082,-0.54 L0.082,-0.43 C0.16,-0.44 0.23,-0.47 0.275,-0.5 L0.275,0 Z" transform="translate(1141.43,1212.60) scale(25)" fill="#000" stroke="none"/>
<text stroke="none" x="1155.33" y="1212.60" font-size="25" font-weight="bold">0</text>
<line x1="1220.2" y1="1176.4" x2="1220.2" y2="1184.7" stroke-width="4.1" stroke-linecap="butt" />
<path d="M0.408,0 L0.408,-0.717 L0.29,-0.717 C0.25,-0.63 0.17,-0.565 0.082,-0.54 L0.082,-0.43 C0.16,-0.44 0.23,-0.47 0.275,-0.5 L0.275,0 Z" transform="translate(1206.26,1212.60) scale(25)" fill="#000" stroke="none"/>
<text stroke="none" x="1220.17" y="1212.60" font-size="25" font-weight="bold">5</text>
<line x1="1285.0" y1="1176.4" x2="1285.0" y2="1184.7" stroke-width="4.1" stroke-linecap="butt" />
<text stroke="none" x="1271.10" y="1212.60" font-size="25" font-weight="bold">20</text>
<line x1="901.0" y1="1046.6" x2="1283.0" y2="1046.6" stroke-width="2.9" stroke-linecap="round" stroke-dasharray="0.2 5.03"/>
<line x1="963.0" y1="1040.2" x2="1262.6" y2="1081.0" stroke-width="3.0" stroke-linecap="round" />
<circle cx="963.0" cy="1022.2" r="7.80" fill="#000" stroke="none"/>
<circle cx="1020.7" cy="1050.2" r="7.80" fill="#000" stroke="none"/>
<circle cx="1064.7" cy="976.5" r="7.80" fill="#000" stroke="none"/>
<circle cx="1105.2" cy="1115.9" r="7.80" fill="#000" stroke="none"/>
<circle cx="1087.6" cy="1126.3" r="7.80" fill="#000" stroke="none"/>
<circle cx="1106.4" cy="1131.1" r="7.80" fill="#000" stroke="none"/>
<circle cx="1173.3" cy="965.3" r="7.80" fill="#000" stroke="none"/>
<circle cx="1198.5" cy="1101.1" r="7.80" fill="#000" stroke="none"/>
<circle cx="1262.6" cy="1056.2" r="7.80" fill="#000" stroke="none"/>
<circle cx="988.2" cy="1065.4" r="7.75" fill="#fff" stroke="#000" stroke-width="2.3"/>
<circle cx="1046.3" cy="980.5" r="7.75" fill="#fff" stroke="#000" stroke-width="2.3"/>
<circle cx="1100.8" cy="1096.3" r="7.75" fill="#fff" stroke="#000" stroke-width="2.3"/>
<circle cx="1123.2" cy="1038.2" r="7.75" fill="#fff" stroke="#000" stroke-width="2.3"/>
<circle cx="1185.7" cy="1103.5" r="7.75" fill="#fff" stroke="#000" stroke-width="2.3"/>
<text stroke="none" x="910.5" y="958.9" font-size="28.6" font-weight="normal" text-anchor="start" >r = - 0.20</text>
<text stroke="none" x="910.5" y="990.7" font-size="28.6" font-weight="normal" text-anchor="start" >p = 0.49</text>
<text stroke="none" x="1090.5" y="1248.3" font-size="26" font-weight="bold" text-anchor="middle" textLength="367.6" lengthAdjust="spacingAndGlyphs" >Change in Potassium Excretion</text>
<text stroke="none" x="1090.5" y="1277.7" font-size="26" font-weight="bold" text-anchor="middle" textLength="389.4" lengthAdjust="spacingAndGlyphs" >Between Beat 1 and 4 (mmol/20h)</text>
<text stroke="none" transform="translate(821.3,1198.1) rotate(-90)" font-size="26" font-weight="bold" textLength="307" lengthAdjust="spacingAndGlyphs">Change in Blood Pressure</text>
<text stroke="none" transform="translate(850.8,1220.8) rotate(-90)" font-size="26" font-weight="bold" textLength="352" lengthAdjust="spacingAndGlyphs">Between Beat 1 and 4 (mmHg)</text>
<line x1="894.5" y1="1368.7" x2="894.5" y2="1632.5" stroke-width="4.1" stroke-linecap="butt" />
<line x1="884.3" y1="1370.7" x2="894.5" y2="1370.7" stroke-width="4.1" stroke-linecap="butt" />
<text stroke="none" x="881.0" y="1379.7" font-size="25" font-weight="bold" text-anchor="end" >6</text>
<line x1="884.3" y1="1414.0" x2="894.5" y2="1414.0" stroke-width="4.1" stroke-linecap="butt" />
<text stroke="none" x="881.0" y="1423.0" font-size="25" font-weight="bold" text-anchor="end" >4</text>
<line x1="884.3" y1="1457.3" x2="894.5" y2="1457.3" stroke-width="4.1" stroke-linecap="butt" />
<text stroke="none" x="881.0" y="1466.3" font-size="25" font-weight="bold" text-anchor="end" >2</text>
<line x1="884.3" y1="1500.6" x2="894.5" y2="1500.6" stroke-width="4.1" stroke-linecap="butt" />
<text stroke="none" x="881.0" y="1509.6" font-size="25" font-weight="bold" text-anchor="end" >0</text>
<line x1="884.3" y1="1543.9" x2="894.5" y2="1543.9" stroke-width="4.1" stroke-linecap="butt" />
<text stroke="none" x="881.0" y="1552.9" font-size="25" font-weight="bold" text-anchor="end" >-2</text>
<line x1="884.3" y1="1587.2" x2="894.5" y2="1587.2" stroke-width="4.1" stroke-linecap="butt" />
<text stroke="none" x="881.0" y="1596.2" font-size="25" font-weight="bold" text-anchor="end" >-4</text>
<line x1="884.3" y1="1630.5" x2="894.5" y2="1630.5" stroke-width="4.1" stroke-linecap="butt" />
<text stroke="none" x="881.0" y="1639.5" font-size="25" font-weight="bold" text-anchor="end" >-6</text>
<line x1="894.5" y1="1630.5" x2="1286.0" y2="1630.5" stroke-width="4.1" stroke-linecap="butt" />
<line x1="894.5" y1="1630.5" x2="894.5" y2="1638.8" stroke-width="4.1" stroke-linecap="butt" />
<text stroke="none" x="876.43" y="1666.70" font-size="25" font-weight="bold">-20</text>
<line x1="972.4" y1="1630.5" x2="972.4" y2="1638.8" stroke-width="4.1" stroke-linecap="butt" />
<text stroke="none" x="954.31" y="1666.70" font-size="25" font-weight="bold">-</text>
<path d="M0.408,0 L0.408,-0.717 L0.29,-0.717 C0.25,-0.63 0.17,-0.565 0.082,-0.54 L0.082,-0.43 C0.16,-0.44 0.23,-0.47 0.275,-0.5 L0.275,0 Z" transform="translate(962.64,1666.70) scale(25)" fill="#000" stroke="none"/>
<text stroke="none" x="976.54" y="1666.70" font-size="25" font-weight="bold">0</text>
<line x1="1050.3" y1="1630.5" x2="1050.3" y2="1638.8" stroke-width="4.1" stroke-linecap="butt" />
<text stroke="none" x="1043.31" y="1666.70" font-size="25" font-weight="bold">0</text>
<line x1="1128.1" y1="1630.5" x2="1128.1" y2="1638.8" stroke-width="4.1" stroke-linecap="butt" />
<path d="M0.408,0 L0.408,-0.717 L0.29,-0.717 C0.25,-0.63 0.17,-0.565 0.082,-0.54 L0.082,-0.43 C0.16,-0.44 0.23,-0.47 0.275,-0.5 L0.275,0 Z" transform="translate(1114.24,1666.70) scale(25)" fill="#000" stroke="none"/>
<text stroke="none" x="1128.14" y="1666.70" font-size="25" font-weight="bold">0</text>
<line x1="1206.0" y1="1630.5" x2="1206.0" y2="1638.8" stroke-width="4.1" stroke-linecap="butt" />
<text stroke="none" x="1192.12" y="1666.70" font-size="25" font-weight="bold">20</text>
<line x1="1283.9" y1="1630.5" x2="1283.9" y2="1638.8" stroke-width="4.1" stroke-linecap="butt" />
<text stroke="none" x="1270.00" y="1666.70" font-size="25" font-weight="bold">30</text>
<line x1="899.5" y1="1500.6" x2="1281.9" y2="1500.6" stroke-width="2.9" stroke-linecap="round" stroke-dasharray="0.2 5.03"/>
<line x1="968.2" y1="1480.2" x2="1204.5" y2="1559.5" stroke-width="3.0" stroke-linecap="round" />
<circle cx="1008.3" cy="1476.2" r="7.80" fill="#000" stroke="none"/>
<circle cx="1014.3" cy="1431.3" r="7.80" fill="#000" stroke="none"/>
<circle cx="1039.5" cy="1504.2" r="7.80" fill="#000" stroke="none"/>
<circle cx="1052.3" cy="1581.1" r="7.80" fill="#000" stroke="none"/>
<circle cx="1057.5" cy="1555.5" r="7.80" fill="#000" stroke="none"/>
<circle cx="1054.7" cy="1420.1" r="7.80" fill="#000" stroke="none"/>
<circle cx="1062.3" cy="1511.0" r="7.80" fill="#000" stroke="none"/>
<circle cx="1128.4" cy="1570.7" r="7.80" fill="#000" stroke="none"/>
<circle cx="1205.3" cy="1584.7" r="7.80" fill="#000" stroke="none"/>
<circle cx="971.0" cy="1550.3" r="7.75" fill="#fff" stroke="#000" stroke-width="2.3"/>
<circle cx="991.0" cy="1519.0" r="7.75" fill="#fff" stroke="#000" stroke-width="2.3"/>
<circle cx="1010.3" cy="1492.2" r="7.75" fill="#fff" stroke="#000" stroke-width="2.3"/>
<circle cx="1015.5" cy="1435.0" r="7.75" fill="#fff" stroke="#000" stroke-width="2.3"/>
<circle cx="1042.7" cy="1558.3" r="7.75" fill="#fff" stroke="#000" stroke-width="2.3"/>
<circle cx="1087.2" cy="1406.1" r="7.75" fill="#fff" stroke="#000" stroke-width="2.3"/>
<text stroke="none" x="913.5" y="1360.0" font-size="28.6" font-weight="normal" text-anchor="start" >r = - 0.20</text>
<text stroke="none" x="913.5" y="1391.8" font-size="28.6" font-weight="normal" text-anchor="start" >p = 0.24</text>
<text stroke="none" x="1090.5" y="1702.3" font-size="26" font-weight="bold" text-anchor="middle" textLength="385.7" lengthAdjust="spacingAndGlyphs" >Change in Aldosterone Excretion</text>
<text stroke="none" x="1090.5" y="1731.7" font-size="26" font-weight="bold" text-anchor="middle" textLength="354.0" lengthAdjust="spacingAndGlyphs" >Between Beat 1 and 4 (ug/20h)</text>
<text stroke="none" transform="translate(818.3,1650.3) rotate(-90)" font-size="26" font-weight="bold" textLength="307" lengthAdjust="spacingAndGlyphs">Change in Blood Pressure</text>
<text stroke="none" transform="translate(847.5,1673.2) rotate(-90)" font-size="26" font-weight="bold" textLength="352" lengthAdjust="spacingAndGlyphs">Between Beat 1 and 4 (mmHg)</text>
<text stroke="none" x="4.0" y="62.7" font-size="43" font-weight="bold" text-anchor="start" >A</text>
<text stroke="none" x="1.8" y="447.7" font-size="43" font-weight="bold" text-anchor="start" >B</text>
<text stroke="none" x="3.0" y="863.0" font-size="43" font-weight="bold" text-anchor="start" >C</text>
<text stroke="none" x="2.2" y="1305.7" font-size="43" font-weight="bold" text-anchor="start" >D</text>
<text stroke="none" x="4.5" y="216.0" font-size="34" font-weight="bold" text-anchor="start" textLength="243" lengthAdjust="spacingAndGlyphs" >Blood Pressure</text>
<text stroke="none" x="72.2" y="255.2" font-size="34" font-weight="bold" text-anchor="start" textLength="125" lengthAdjust="spacingAndGlyphs" >(mmHg)</text>
<text stroke="none" x="65.2" y="569.9" font-size="34" font-weight="bold" text-anchor="start" textLength="121" lengthAdjust="spacingAndGlyphs" >Sodium</text>
<text stroke="none" x="65.2" y="609.1" font-size="34" font-weight="bold" text-anchor="start" textLength="148.5" lengthAdjust="spacingAndGlyphs" >Excretion</text>
<text stroke="none" x="47.5" y="648.9" font-size="34" font-weight="bold" text-anchor="start" textLength="175" lengthAdjust="spacingAndGlyphs" >(mmol/20h)</text>
<text stroke="none" x="42.8" y="978.5" font-size="34" font-weight="bold" text-anchor="start" textLength="166" lengthAdjust="spacingAndGlyphs" >Potassium</text>
<text stroke="none" x="64.7" y="1017.7" font-size="34" font-weight="bold" text-anchor="start" textLength="148.5" lengthAdjust="spacingAndGlyphs" >Excretion</text>
<text stroke="none" x="47.1" y="1057.1" font-size="34" font-weight="bold" text-anchor="start" textLength="175" lengthAdjust="spacingAndGlyphs" >(mmol/20h)</text>
<text stroke="none" x="49.9" y="1480.3" font-size="34" font-weight="bold" text-anchor="start" textLength="192.5" lengthAdjust="spacingAndGlyphs" >Aldosterone</text>
<text stroke="none" x="0.8" y="1520.2" font-size="34" font-weight="bold" text-anchor="start" textLength="284.5" lengthAdjust="spacingAndGlyphs" >Excretion (ug/20h)</text>
<text stroke="none" x="385.0" y="1705.3" font-size="44" font-weight="bold" text-anchor="start" textLength="91.5" lengthAdjust="spacingAndGlyphs" >Beat</text>
<path d="M0.408,0 L0.408,-0.717 L0.29,-0.717 C0.25,-0.63 0.17,-0.565 0.082,-0.54 L0.082,-0.43 C0.16,-0.44 0.23,-0.47 0.275,-0.5 L0.275,0 Z" transform="translate(486.8,1705.1) scale(43.4)" fill="#000" stroke="none"/>
<text stroke="none" x="567.2" y="1705.5" font-size="44" font-weight="bold" text-anchor="start" textLength="126" lengthAdjust="spacingAndGlyphs" >Beat 4</text>
<circle cx="820.7" cy="123.4" r="10.60" fill="#fff" stroke="#000" stroke-width="3.2"/>
<circle cx="820.7" cy="171.5" r="10.50" fill="#000" stroke="none"/>
<text stroke="none" x="859.5" y="136.0" font-size="38.5" font-weight="normal" text-anchor="start" textLength="120.5" lengthAdjust="spacingAndGlyphs" >Control</text>
<text stroke="none" x="859.5" y="184.1" font-size="38.5" font-weight="normal" text-anchor="start" textLength="80.5" lengthAdjust="spacingAndGlyphs" >CSR</text>
</g>
</svg>
</body></html>
